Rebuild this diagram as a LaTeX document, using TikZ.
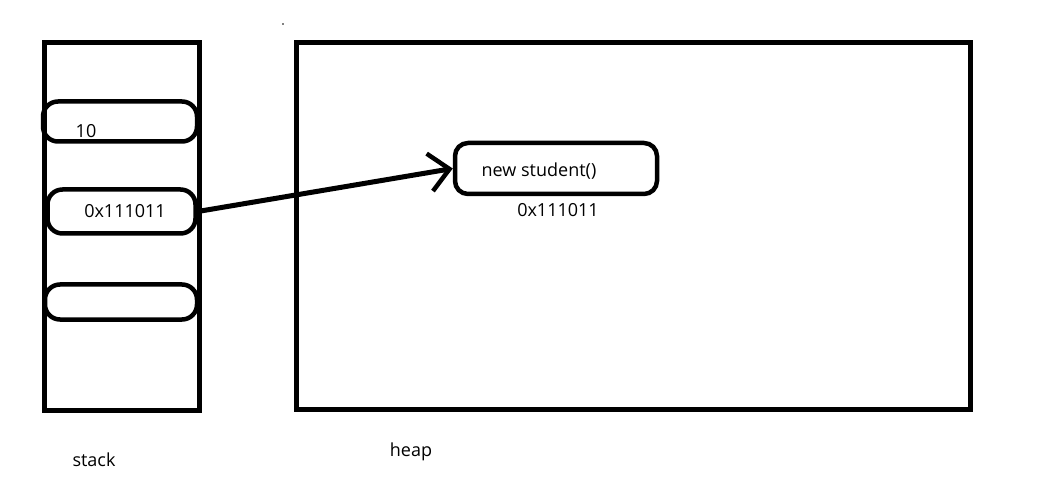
\documentclass[tikz,border=0pt]{standalone}
\usepackage{fontspec}
\setmainfont{Open Sans}
\usetikzlibrary{arrows.meta}
\begin{document}
\begin{tikzpicture}[x=1pt,y=-1pt,
  frame/.style={draw=black,line width=5pt},
  slot/.style={draw=black,line width=4.5pt,rounded corners=15pt,inner sep=0pt},
  lbl/.style={inner sep=0pt,font=\fontsize{18}{20}\selectfont},
  ptr/.style={line width=5pt,-{Straight Barb[length=20pt,width=38pt,line width=4.5pt]}}]
\useasboundingbox (0,0) rectangle (1050,489);
% stack and heap frames
\node[frame,inner sep=0pt,minimum width=155pt,minimum height=368pt] (stack) at (122,226.5) {};
\node[frame,inner sep=0pt,minimum width=674pt,minimum height=367pt] (heap) at (633.5,226) {};
% stack slots
\node[slot,minimum width=154pt,minimum height=40pt] (s1) at (120,121.5) {};
\node[slot,minimum width=148pt,minimum height=44pt] (s2) at (121.5,211.5) {};
\node[slot,minimum width=152pt,minimum height=35pt] (s3) at (121,302) {};
% heap object
\node[slot,rounded corners=13pt,minimum width=202pt,minimum height=51pt] (obj) at (556,168.5) {};
% texts
\node[lbl] (t10) at (86,131) {10};
\node[lbl] (taddr) at (125,211) {0x111011};
\node[lbl] (tnew) at (539,171) {new student()};
\node[lbl] (tobjaddr) at (558,210) {0x111011};
\node[lbl] (tstack) at (94,460) {stack};
\node[lbl] (theap) at (411,452) {heap};
% tiny dot
\fill (283,24) circle (0.8pt);
% pointer
\draw[ptr] (s2.east) -- (obj.west);
\end{tikzpicture}
\end{document}
